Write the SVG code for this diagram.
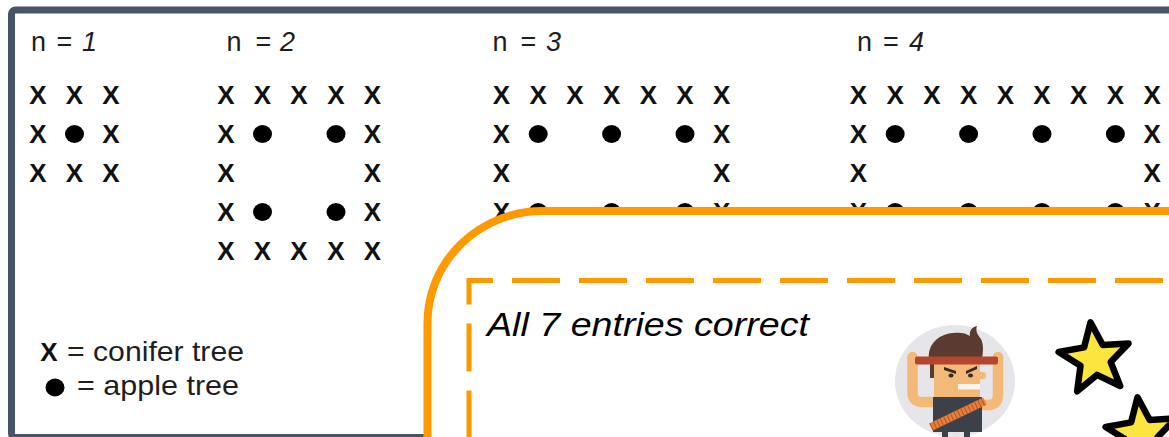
<svg xmlns="http://www.w3.org/2000/svg" width="1169" height="437" viewBox="0 0 1169 437">
  <style>
    .hdr { font-family: "Liberation Sans", Arial, sans-serif; font-size: 27px; fill: #1e1e1e; text-anchor: middle; }
    .num { font-style: italic; }
    .x { font-family: "Liberation Sans", Arial, sans-serif; font-size: 26px; font-weight: bold; fill: #111; text-anchor: middle; }
    .dot { fill: #000; }
    .lgd { font-family: "Liberation Sans", Arial, sans-serif; font-size: 28px; fill: #1e1e1e; }
    .note { font-family: "Liberation Sans", Arial, sans-serif; font-size: 34px; font-style: italic; fill: #000; }
    .star { fill: #FDE53F; stroke: #000; stroke-width: 6.5; stroke-linejoin: round; }
  </style>
  <defs>
    <ellipse id="apple" rx="9.5" ry="9" class="dot"/>
    <path id="starShape" d="M0 -37 L9.4 -12.9 L35.2 -11.4 L15.2 4.9 L21.7 29.9 L0 16 L-21.7 29.9 L-15.2 4.9 L-35.2 -11.4 L-9.4 -12.9 Z"/>
  </defs>

  <!-- outer frame -->
  <rect id="frame" x="11.5" y="10" width="1200" height="427.5" rx="4" fill="#fff" stroke="#465569" stroke-width="7"/>

  <!-- pattern n = 1 -->
  <g id="pattern-n1">
    <text class="hdr" y="51"><tspan x="38.5">n</tspan><tspan x="64.5">=</tspan><tspan x="89.5" class="num">1</tspan></text>
    <text class="x" x="38 74.5 111" y="103.5">XXX</text>
    <text class="x" x="38 111" y="142.5">XX</text>
    <use href="#apple" x="74.5" y="134"/>
    <text class="x" x="38 74.5 111" y="181.5">XXX</text>
  </g>

  <!-- pattern n = 2 -->
  <g id="pattern-n2">
    <text class="hdr" y="51"><tspan x="234">n</tspan><tspan x="263.5">=</tspan><tspan x="287.5" class="num">2</tspan></text>
    <text class="x" x="226 262.5 299 336 372.5" y="103.5">XXXXX</text>
    <text class="x" x="226 372.5" y="142.5">XX</text>
    <use href="#apple" x="262.5" y="134"/>
    <use href="#apple" x="336" y="134"/>
    <text class="x" x="226 372.5" y="181.5">XX</text>
    <text class="x" x="226 372.5" y="220.5">XX</text>
    <use href="#apple" x="262.5" y="212"/>
    <use href="#apple" x="336" y="212"/>
    <text class="x" x="226 262.5 299 336 372.5" y="259.5">XXXXX</text>
  </g>

  <!-- pattern n = 3 -->
  <g id="pattern-n3">
    <text class="hdr" y="51"><tspan x="500">n</tspan><tspan x="528.5">=</tspan><tspan x="553.5" class="num">3</tspan></text>
    <text class="x" x="501.5 538.2 574.9 611.6 648.3 685 721.7" y="103.5">XXXXXXX</text>
    <text class="x" x="501.5 721.7" y="142.5">XX</text>
    <use href="#apple" x="538.2" y="134"/>
    <use href="#apple" x="611.6" y="134"/>
    <use href="#apple" x="685" y="134"/>
    <text class="x" x="501.5 721.7" y="181.5">XX</text>
    <text class="x" x="501.5 721.7" y="220.5">XX</text>
    <use href="#apple" x="538.2" y="212"/>
    <use href="#apple" x="611.6" y="212"/>
    <use href="#apple" x="685" y="212"/>
  </g>

  <!-- pattern n = 4 -->
  <g id="pattern-n4">
    <text class="hdr" y="51"><tspan x="864.5">n</tspan><tspan x="891">=</tspan><tspan x="916.5" class="num">4</tspan></text>
    <text class="x" x="858.5 895.2 931.9 968.6 1005.3 1042 1078.7 1115.4 1152.1" y="103.5">XXXXXXXXX</text>
    <text class="x" x="858.5 1152.1" y="142.5">XX</text>
    <use href="#apple" x="895.2" y="134"/>
    <use href="#apple" x="968.6" y="134"/>
    <use href="#apple" x="1042" y="134"/>
    <use href="#apple" x="1115.4" y="134"/>
    <text class="x" x="858.5 1152.1" y="181.5">XX</text>
    <text class="x" x="858.5 1152.1" y="220.5">XX</text>
    <use href="#apple" x="895.2" y="212"/>
    <use href="#apple" x="968.6" y="212"/>
    <use href="#apple" x="1042" y="212"/>
    <use href="#apple" x="1115.4" y="212"/>
  </g>

  <!-- legend -->
  <g id="legend">
    <text class="x" x="49" y="361">X</text>
    <text class="lgd" x="67" y="361" textLength="177" lengthAdjust="spacingAndGlyphs">= conifer tree</text>
    <use href="#apple" x="55" y="387.5"/>
    <text class="lgd" x="77" y="395" textLength="162" lengthAdjust="spacingAndGlyphs">= apple tree</text>
  </g>

  <!-- feedback card -->
  <g id="feedback-card">
    <path d="M427.5 450 V323 A115 112 0 0 1 542.5 211 H1180 V450 Z" fill="#fff" stroke="#FF9900" stroke-width="8"/>
    <path d="M469 450 V280.5 H1180" fill="none" stroke="#FF9900" stroke-width="5" stroke-dasharray="48 19" stroke-dashoffset="55.5"/>
    <text class="note" x="487" y="335.5" textLength="322" lengthAdjust="spacingAndGlyphs">All 7 entries correct</text>
  </g>

  <!-- avatar -->
  <g id="avatar">
    <ellipse cx="955" cy="381" rx="60" ry="56" fill="#E6E6EA"/>
    <path d="M936 402 H922 Q912.5 402 912.5 392 V357" fill="none" stroke="#F2B978" stroke-width="10.5" stroke-linecap="round"/>
    <path d="M980 405 H988 Q998 405 998 395 V357" fill="none" stroke="#F2B978" stroke-width="10.5" stroke-linecap="round"/>
    <path d="M929 360 C927 344 939 334 953 333 C960 332 966 333 970 336 C969 331 972 327 977 326 C975 331 978 335 981 339 C984 345 983 352 982 360 Z" fill="#5B3B2F"/>
    <rect x="930" y="362" width="7" height="16" fill="#5B3B2F"/>
    <rect x="934" y="362" width="46" height="36" fill="#F2B978"/>
    <rect x="977" y="372" width="9" height="7" rx="3" fill="#F2B978"/>
    <rect x="958" y="384" width="22" height="5.5" fill="#F8F4EE"/>
    <path d="M944 367 L956 371 L956 374 L944 370 Z" fill="#3A2A25"/>
    <path d="M966 371 L977 366 L977 369 L966 374 Z" fill="#3A2A25"/>
    <ellipse cx="951" cy="375.5" rx="2.5" ry="2" fill="#3A2A25"/>
    <ellipse cx="970.5" cy="375.5" rx="2.5" ry="2" fill="#3A2A25"/>
    <rect x="915" y="356.5" width="83" height="8" rx="2" fill="#B5452F"/>
    <rect x="933" y="397" width="49" height="35" fill="#3C4149"/>
    <rect x="942" y="430" width="6" height="9" fill="#3C4149"/>
    <rect x="964" y="430" width="6" height="9" fill="#3C4149"/>
    <line x1="931" y1="427" x2="985" y2="401" stroke="#E8803A" stroke-width="8"/>
    <line x1="931" y1="427" x2="985" y2="401" stroke="#B9582A" stroke-width="8" stroke-dasharray="1.2 2.6"/>
  </g>

  <!-- stars -->
  <g id="stars">
    <use href="#starShape" class="star" transform="translate(1095 359) rotate(-7)"/>
    <use href="#starShape" class="star" transform="translate(1142 434) rotate(-7)"/>
  </g>
</svg>
